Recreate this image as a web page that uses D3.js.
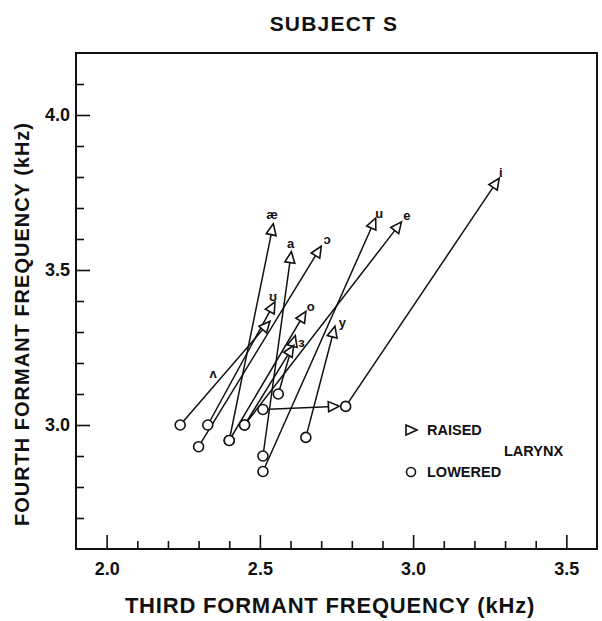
<!DOCTYPE html>
<html>
<head>
<meta charset="utf-8">
<script src="https://cdn.jsdelivr.net/npm/d3@7"></script>
<style>
  body { margin: 0; background: #fff; }
  text { font-family: "Liberation Sans", Arial, sans-serif; font-weight: bold; fill: #111; }
</style>
</head>
<body>
<svg id="chart"></svg>
<script>
const width = 602;
const height = 621;
const margin = { top: 53, right: 5, bottom: 72, left: 76 };
const sid = "#chart";

// vowel labels, lowered larynx (circle) and raised larynx (triangle) formants, kHz
const vowels   = ["æ", "a", "ɔ", "u", "e", "i", "ʊ", "ʌ", "o", "y", "ɜ", "", ""];
const lowF3    = [2.40, 2.51, 2.30, 2.51, 2.45, 2.78, 2.33, 2.24, 2.40, 2.65, 2.56, 2.51, 2.45];
const lowF4    = [2.95, 2.90, 2.93, 2.85, 3.00, 3.06, 3.00, 3.00, 2.95, 2.96, 3.10, 3.05, 3.00];
const raisedF3 = [2.54, 2.60, 2.69, 2.87, 2.95, 3.27, 2.54, 2.52, 2.64, 2.74, 2.61, 2.74, 2.60];
const raisedF4 = [3.63, 3.54, 3.56, 3.65, 3.64, 3.78, 3.38, 3.32, 3.35, 3.30, 3.27, 3.06, 3.24];

const xTickLabels = ["2.0", "2.5", "3.0", "3.5"];
const yTickLabels = ["3.0", "3.5", "4.0"];
const xMinorTicks = [2.1, 2.2, 2.3, 2.4, 2.6, 2.7, 2.8, 2.9, 3.1, 3.2, 3.3, 3.4];
const yMinorTicks = [2.7, 2.8, 2.9, 3.1, 3.2, 3.3, 3.4, 3.6, 3.7, 3.8, 3.9, 4.1];

// where each vowel label sits, in px from its triangle
const labelOffset = [[0, -15], [0, -14], [9, -12], [6, -10], [9, -11], [5, -11], [1, -11],
                     [-53, 48], [8, -10], [9, -10], [8, 1], [0, 0], [0, 0]];

const svg = d3.select(sid)
    .attr("width", width)
    .attr("height", height);

const xScale = d3.scaleLinear()
    .domain([1.9, 3.6])
    .range([margin.left, width - margin.right]);

const yScale = d3.scaleLinear()
    .domain([2.6, 4.2])
    .range([height - margin.bottom, margin.top]);

// title
svg.append("text")
    .attr("x", 334)
    .attr("y", 31)
    .attr("text-anchor", "middle")
    .style("font-size", "21px")
    .style("letter-spacing", "1.2px")
    .text("SUBJECT S");

// frame
svg.append("rect")
    .attr("x", xScale(1.9))
    .attr("y", yScale(4.2))
    .attr("width", xScale(3.6) - xScale(1.9))
    .attr("height", yScale(2.6) - yScale(4.2))
    .attr("fill", "none")
    .attr("stroke", "#111")
    .attr("stroke-width", 2);

// x axis, ticks point inward
const xMinor = svg.append("g")
    .attr("transform", `translate(0, ${yScale(2.6)})`)
    .call(d3.axisBottom(xScale).tickValues(xMinorTicks).tickSize(-8).tickFormat(""));
const xMajor = svg.append("g")
    .attr("transform", `translate(0, ${yScale(2.6)})`)
    .call(d3.axisBottom(xScale).tickValues(xTickLabels.map(Number)).tickSize(-14).tickPadding(13)
        .tickFormat((d, i) => xTickLabels[i]));

// y axis
const yMinor = svg.append("g")
    .attr("transform", `translate(${xScale(1.9)}, 0)`)
    .call(d3.axisLeft(yScale).tickValues(yMinorTicks).tickSize(-8).tickFormat(""));
const yMajor = svg.append("g")
    .attr("transform", `translate(${xScale(1.9)}, 0)`)
    .call(d3.axisLeft(yScale).tickValues(yTickLabels.map(Number)).tickSize(-14).tickPadding(6)
        .tickFormat((d, i) => yTickLabels[i]));

[xMinor, xMajor, yMinor, yMajor].forEach(g => {
    g.select(".domain").remove();
    g.selectAll("line").attr("stroke", "#111").attr("stroke-width", 1.6);
    g.selectAll("text").style("font-size", "18px").style("font-family", "Liberation Sans, Arial, sans-serif")
        .style("font-weight", "bold").attr("fill", "#111");
});

// axis titles
svg.append("text")
    .attr("x", 330)
    .attr("y", 613)
    .attr("text-anchor", "middle")
    .style("font-size", "22px")
    .style("letter-spacing", "0.8px")
    .text("THIRD FORMANT FREQUENCY (kHz)");

svg.append("text")
    .attr("transform", "rotate(-90)")
    .attr("x", -324)
    .attr("y", 29)
    .attr("text-anchor", "middle")
    .style("font-size", "20px")
    .style("letter-spacing", "1px")
    .text("FOURTH FORMANT FREQUENCY (kHz)");

const data = vowels.map((v, i) => ({
    vowel: v,
    x0: lowF3[i], y0: lowF4[i],
    x1: raisedF3[i], y1: raisedF4[i],
    off: labelOffset[i]
}));

// connecting lines
svg.append("g")
    .selectAll("line")
    .data(data)
    .enter()
    .append("line")
        .attr("x1", d => xScale(d.x0))
        .attr("y1", d => yScale(d.y0))
        .attr("x2", d => xScale(d.x1))
        .attr("y2", d => yScale(d.y1))
        .attr("stroke", "#111")
        .attr("stroke-width", 1.5);

const triangle = "M6,0 L-5,-5 L-5,5 Z";

// lowered larynx
svg.append("g")
    .selectAll("circle")
    .data(data)
    .enter()
    .append("circle")
        .attr("cx", d => xScale(d.x0))
        .attr("cy", d => yScale(d.y0))
        .attr("r", 5)
        .attr("fill", "#fff")
        .attr("stroke", "#111")
        .attr("stroke-width", 1.6);

// raised larynx, pointing along the shift
svg.append("g")
    .selectAll("path")
    .data(data)
    .enter()
    .append("path")
        .attr("d", triangle)
        .attr("transform", d => {
            const a = Math.atan2(yScale(d.y1) - yScale(d.y0), xScale(d.x1) - xScale(d.x0)) * 180 / Math.PI;
            return `translate(${xScale(d.x1)}, ${yScale(d.y1)}) rotate(${a})`;
        })
        .attr("fill", "#fff")
        .attr("stroke", "#111")
        .attr("stroke-width", 1.6);

// vowel labels
svg.append("g")
    .selectAll("text")
    .data(data.filter(d => d.vowel !== ""))
    .enter()
    .append("text")
        .attr("x", d => xScale(d.x1) + d.off[0])
        .attr("y", d => yScale(d.y1) + d.off[1])
        .attr("dy", "0.35em")
        .attr("text-anchor", "middle")
        .style("font-size", "13px")
        .text(d => d.vowel);

// legend
const legend = svg.append("g");
legend.append("path")
    .attr("d", triangle)
    .attr("transform", "translate(411, 430)")
    .attr("fill", "#fff")
    .attr("stroke", "#111")
    .attr("stroke-width", 1.6);
legend.append("circle")
    .attr("cx", 411)
    .attr("cy", 472)
    .attr("r", 4.5)
    .attr("fill", "#fff")
    .attr("stroke", "#111")
    .attr("stroke-width", 1.6);
legend.append("text").attr("x", 427).attr("y", 435).style("font-size", "14.5px").text("RAISED");
legend.append("text").attr("x", 504).attr("y", 456).style("font-size", "14.5px").text("LARYNX");
legend.append("text").attr("x", 427).attr("y", 477).style("font-size", "14.5px").text("LOWERED");
</script>
</body>
</html>
